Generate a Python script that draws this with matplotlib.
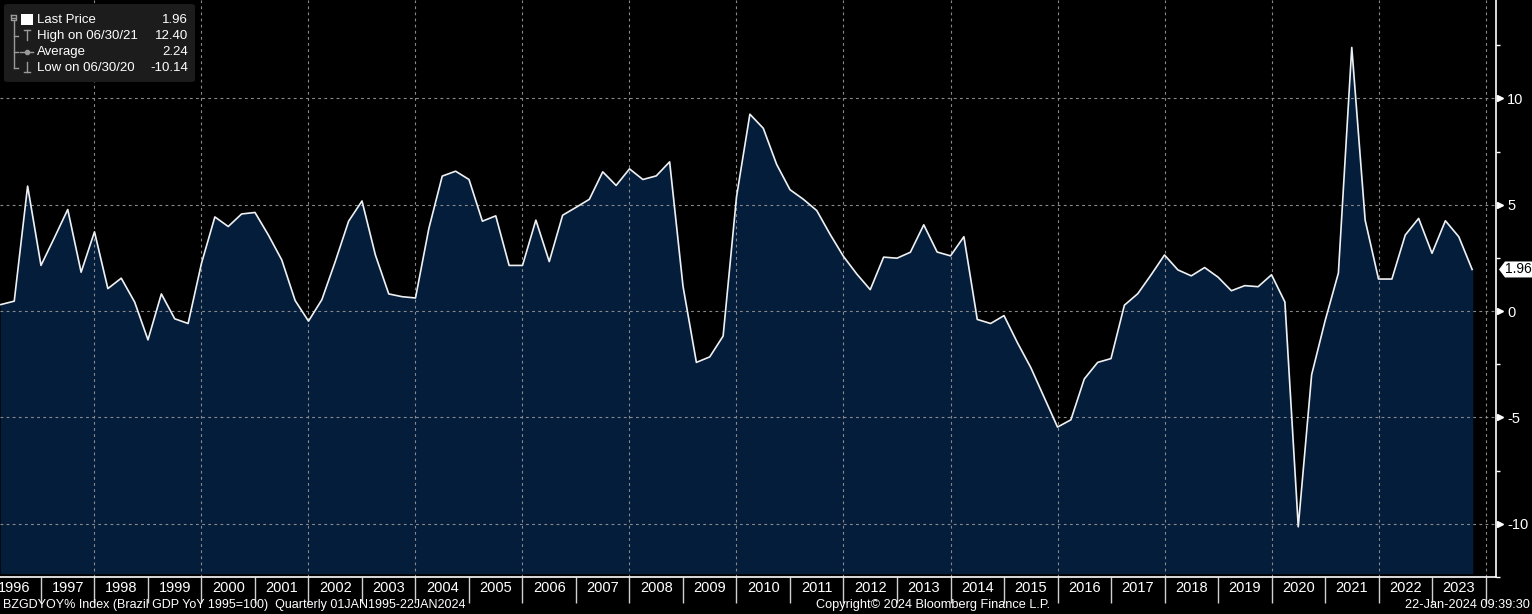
import numpy as np
import matplotlib
matplotlib.use('Agg')
import matplotlib.pyplot as plt
from matplotlib.patches import FancyBboxPatch, Rectangle, Polygon
from matplotlib.lines import Line2D
from matplotlib.transforms import ScaledTranslation

plt.rcParams['font.family'] = ['Liberation Sans Narrow', 'Liberation Sans', 'DejaVu Sans']

# Brazil GDP YoY %, quarterly, Q1 1996 .. Q3 2023
years = list(range(1996, 2024))
gdp_yoy = [
    0.31, 0.47, 5.88, 2.15,     # 1996
    3.45, 4.78, 1.83, 3.73,     # 1997
    1.06, 1.55, 0.43, -1.35,    # 1998
    0.81, -0.36, -0.58, 2.25,   # 1999
    4.43, 3.98, 4.57, 4.64,     # 2000
    3.58, 2.41, 0.50, -0.47,    # 2001
    0.54, 2.33, 4.23, 5.18,     # 2002
    2.64, 0.81, 0.68, 0.62,     # 2003
    3.89, 6.35, 6.58, 6.19,     # 2004
    4.23, 4.48, 2.15, 2.15,     # 2005
    4.28, 2.33, 4.51, 4.88,     # 2006
    5.26, 6.55, 5.91, 6.69,     # 2007
    6.19, 6.36, 7.02, 1.17,     # 2008
    -2.41, -2.15, -1.17, 5.37,  # 2009
    9.26, 8.60, 6.90, 5.71,     # 2010
    5.26, 4.73, 3.61, 2.57,     # 2011
    1.74, 1.01, 2.54, 2.49,     # 2012
    2.77, 4.06, 2.78, 2.60,     # 2013
    3.50, -0.39, -0.58, -0.21,  # 2014
    -1.48, -2.65, -4.05, -5.45, # 2015
    -5.11, -3.19, -2.41, -2.23, # 2016
    0.28, 0.82, 1.71, 2.64,     # 2017
    1.94, 1.66, 2.05, 1.60,     # 2018
    0.96, 1.20, 1.15, 1.71,     # 2019
    0.43, -10.14, -2.99, -0.47, # 2020
    1.79, 12.40, 4.28, 1.51,    # 2021
    1.51, 3.58, 4.36, 2.72,     # 2022
    4.25, 3.50, 1.96,           # 2023
]
# quarter-end positions in fractional years
t = np.array([y + q / 4 for y in years for q in range(1, 5)][:len(gdp_yoy)])
v = np.array(gdp_yoy)

legend_labels = ['Last Price', 'High on 06/30/21', 'Average', 'Low on 06/30/20']
legend_values = ['1.96', '12.40', '2.24', '-10.14']

W, H = 1532, 614
fig = plt.figure(figsize=(W / 100, H / 100), dpi=100, facecolor='black')
ax = fig.add_axes([0, 1 - 577 / H, 1496 / W, 577 / H], facecolor='black')

ymin, ymax = -12.31, 14.63
xmin, xmax = 1996.234, 2024.196
ax.set_xlim(xmin, xmax)
ax.set_ylim(ymin, ymax)

ax.fill_between(t, v, ymin, color='#031d3b', zorder=1)
ax.plot(t, v, color='#f0f0f0', lw=1.2, zorder=3)

# grid
for gy in [-10, -5, 0, 5, 10]:
    ax.axhline(gy, color='#8a8a8a', lw=0.8, ls=(0, (2.5, 3)), zorder=2)
for gx in range(1998, 2025, 2):
    ax.axvline(gx, color='#8a8a8a', lw=0.8, ls=(0, (2.5, 3)), zorder=2)

# spines
for s in ['left', 'top']:
    ax.spines[s].set_visible(False)
for s in ['right', 'bottom']:
    ax.spines[s].set_color('white')
    ax.spines[s].set_linewidth(1.2)

# x axis: year separators + centred labels
ax.set_xticks(range(1997, 2025))
ax.set_xticklabels([])
ax.set_xticks([y + 0.5 for y in years], minor=True)
ax.set_xticklabels([str(y) for y in years], minor=True)
ax.tick_params(axis='x', which='major', direction='out', length=19, width=1, color='#d0d0d0')
ax.tick_params(axis='x', which='minor', length=0, pad=3, labelsize=10.5, labelcolor='white')

# y axis on the right
ax.yaxis.tick_right()
ax.set_yticks([-10, -5, 0, 5, 10])
ax.set_yticklabels(['-10', '-5', '0', '5', '10'])
ax.set_yticks(np.arange(-12.5, 14, 2.5), minor=True)
ax.tick_params(axis='y', which='major', length=0, pad=8, labelsize=10.5, labelcolor='white')
ax.tick_params(axis='y', which='minor', direction='out', length=3, width=1, color='white')
tri = ax.get_yaxis_transform() + ScaledTranslation(3 / 72, 0, fig.dpi_scale_trans)
ax.plot([1, 1, 1, 1, 1], [-10, -5, 0, 5, 10], ls='none', marker='>', ms=4.5,
        color='white', transform=tri, clip_on=False)


# figure pixel coords helpers
def fx(px):
    return px / W


def fy(py):
    return 1 - py / H


# last price tag
tag_y = ax.transData.transform((xmin, v[-1]))[1]
tag_py = H - tag_y
fig.add_artist(Polygon([(fx(1499), fy(tag_py)), (fx(1505), fy(tag_py - 8)), (fx(1532), fy(tag_py - 8)),
                        (fx(1532), fy(tag_py + 8)), (fx(1505), fy(tag_py + 8))],
                       closed=True, transform=fig.transFigure, fc='white', ec='none', zorder=6))
fig.text(fx(1518), fy(tag_py), legend_values[0], color='black', fontsize=10, va='center',
         ha='center', zorder=7)

box = FancyBboxPatch((fx(4), fy(82)), fx(191), 78 / H, boxstyle='round,pad=0,rounding_size=0.003',
                     transform=fig.transFigure, fc='#1c1c1c', ec='none', zorder=5)
fig.patches.append(box)
gray = '#9a9a9a'


def fline(xs, ys, **kw):
    fig.add_artist(Line2D([fx(a) for a in xs], [fy(b) for b in ys], transform=fig.transFigure,
                          color=gray, lw=1, zorder=6, **kw))


fline([11, 16, 16, 11, 11], [15, 15, 20, 20, 15])
fline([12, 15], [17.5, 17.5])
fline([13.5, 13.5], [20, 68])
for by in [36, 52, 68]:
    fline([13.5, 18], [by, by])
fig.add_artist(Rectangle((fx(21), fy(25)), fx(12), 11 / H, transform=fig.transFigure,
                         fc='white', ec='none', zorder=6))
fline([24, 30], [30, 30])
fline([27, 27], [30, 40])
fline([20, 33], [52, 52])
fig.add_artist(Line2D([fx(27)], [fy(52)], transform=fig.transFigure, marker='o', ms=3,
                      color=gray, zorder=7))
fline([27, 27], [62, 72])
fline([24, 30], [72, 72])

for i, (lab, val) in enumerate(zip(legend_labels, legend_values)):
    yy = fy(20 + i * 16)
    fig.text(fx(37), yy, lab, color='white', fontsize=9.5, va='center', ha='left', zorder=7)
    fig.text(fx(188), yy, val, color='white', fontsize=9.5, va='center', ha='right', zorder=7)

# footer
fig.text(fx(3), fy(605), 'BZGDYOY% Index (Brazil GDP YoY 1995=100)  Quarterly 01JAN1995-22JAN2024',
         color='white', fontsize=9, va='center', ha='left')
fig.text(fx(933), fy(605), 'Copyright\u00a9 2024 Bloomberg Finance L.P.',
         color='white', fontsize=9.2, va='center', ha='center')
fig.text(fx(1530), fy(605), '22-Jan-2024 09:39:30',
         color='white', fontsize=9.2, va='center', ha='right')

fig.savefig('out.png', dpi=100, facecolor='black')
